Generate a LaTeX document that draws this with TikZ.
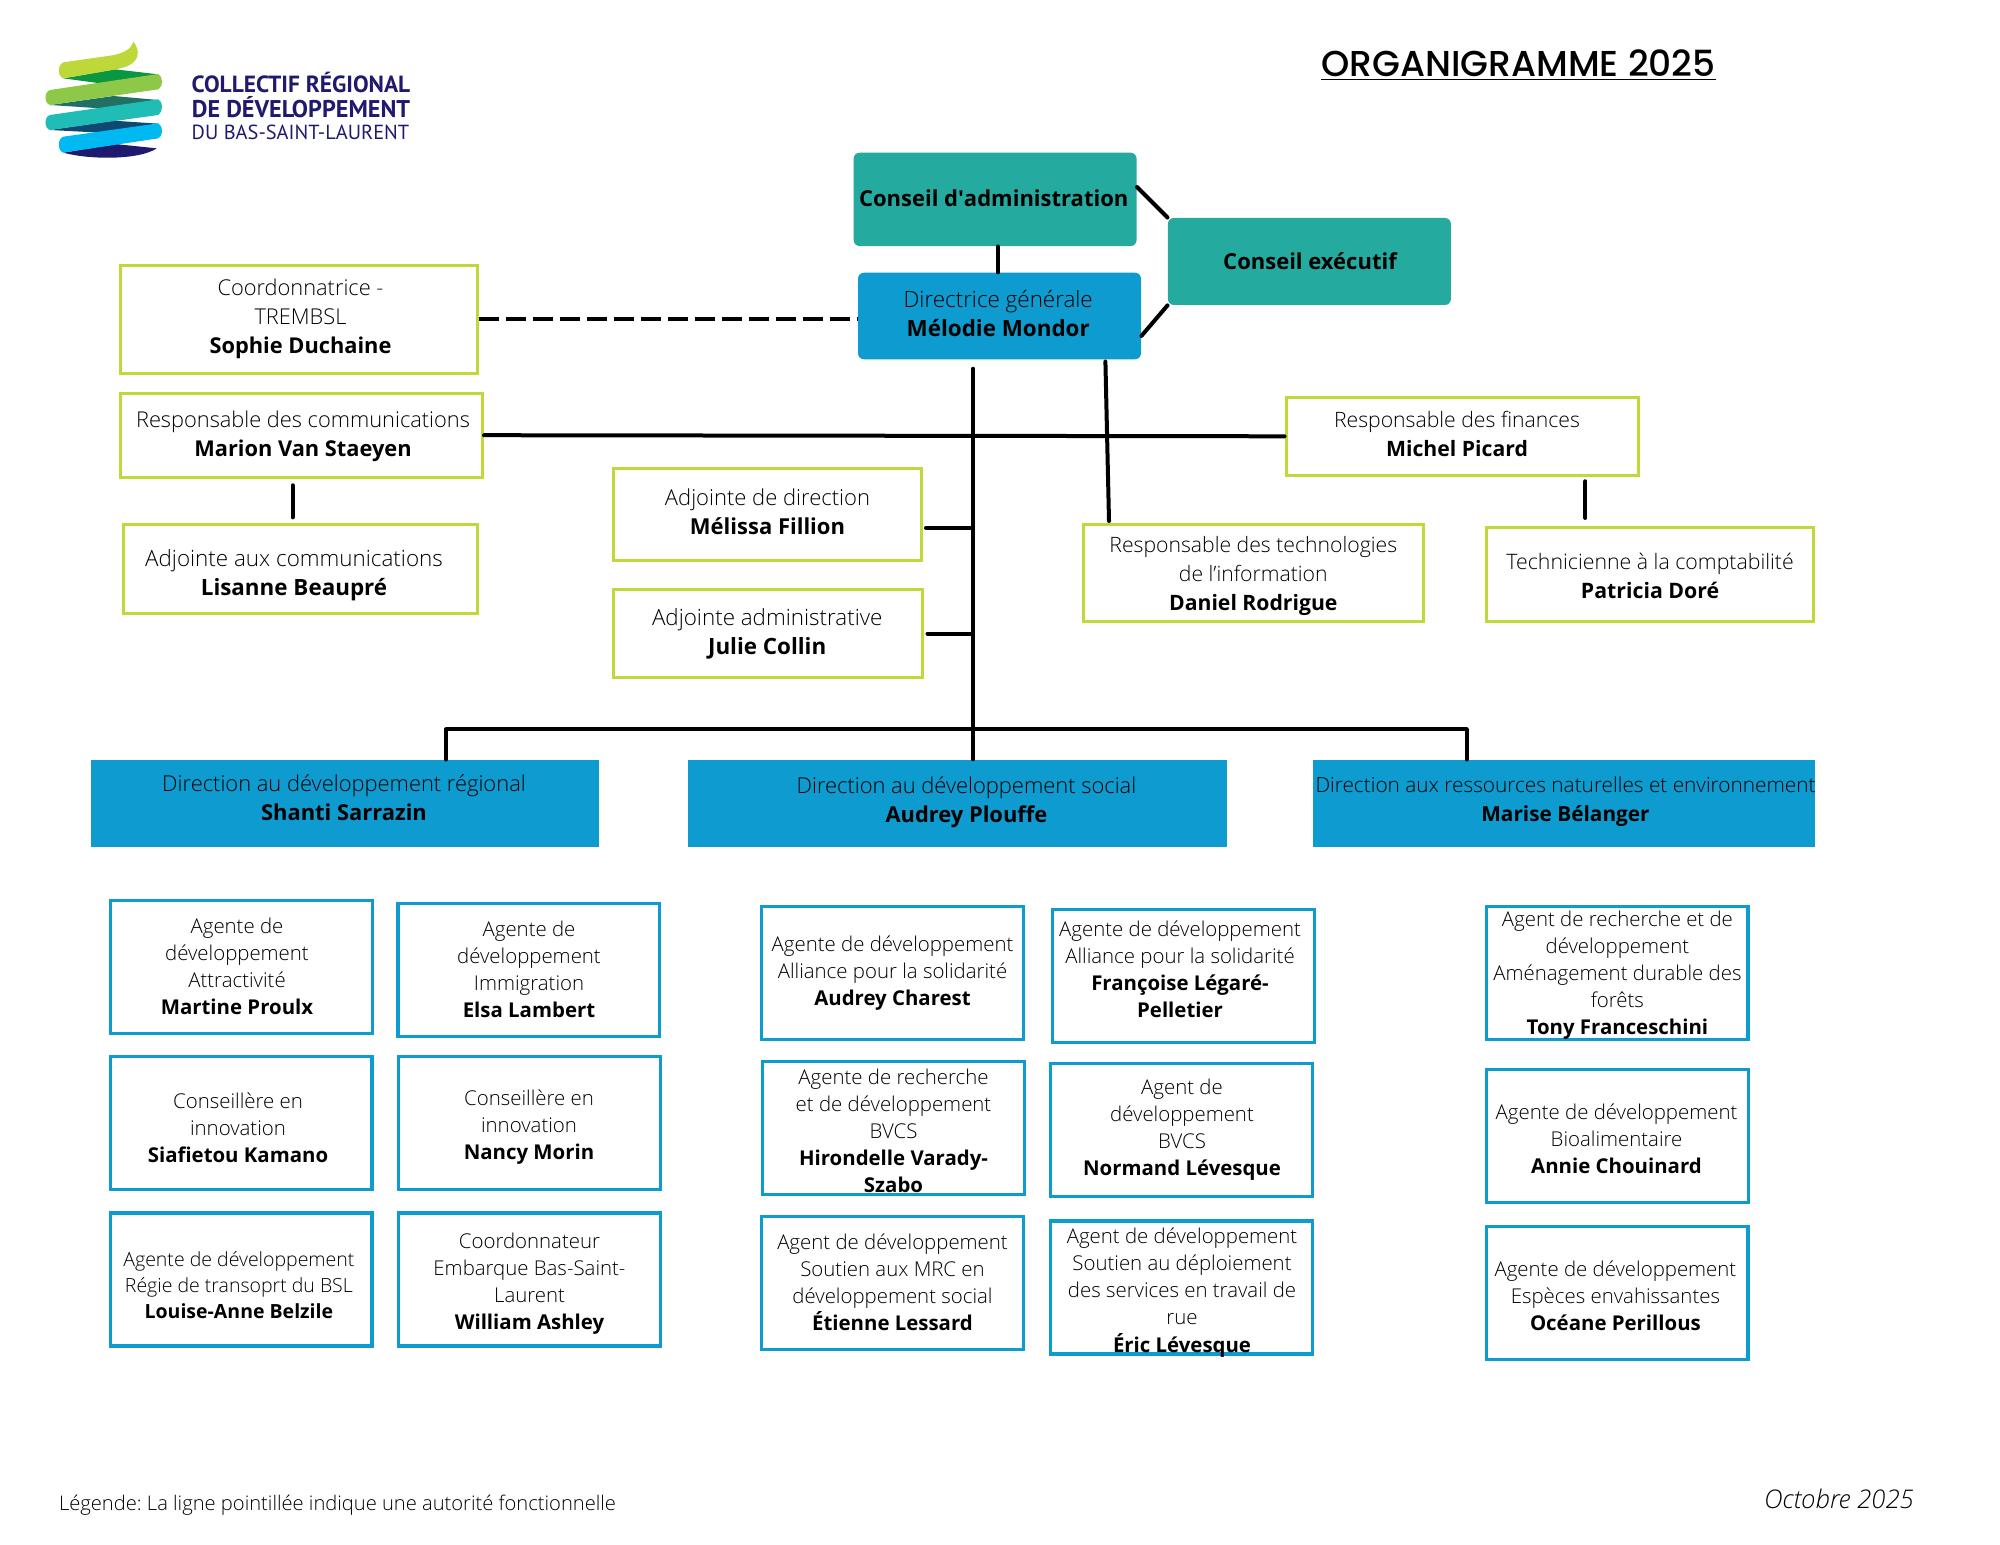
\documentclass[tikz,border=0pt]{standalone}
\usepackage{fontspec}
\usepackage{tikz}
\usepackage{xcolor}
\usetikzlibrary{positioning}

\setmainfont{Open Sans}[UprightFont=* Light, BoldFont=* Bold, ItalicFont=* Light Italic]
\newfontfamily\titlefont{Poppins}[UprightFont=* Medium]
\newfontfamily\logofont{PT Sans}
\frenchspacing

\definecolor{limeline}{HTML}{BFD93A}
\definecolor{bluefill}{HTML}{0E9BD0}
\definecolor{tealfill}{HTML}{24AA9F}
\definecolor{navylogo}{HTML}{1F1A6F}

% box text, moved from the centre of the box by dx and dy (in pixels)
\newcommand{\boxtxt}[3]{\raisebox{\dimexpr-0.25em-1.25pt-#2pt/2\relax}[0pt][0pt]{\makebox[0pt]{\hspace*{#1pt}\begin{tabular}{@{}c@{}}#3\end{tabular}}}}

\tikzset{
    sized/.style 2 args={minimum width=#1*0.5pt, minimum height=#2*0.5pt, inner sep=0pt},
    fontpt/.style={font=\fontsize{#1}{14.5}\selectfont},
    agentfont/.style={font=\fontsize{#1}{13.5}\selectfont},
    staffbox/.style={draw=limeline, line width=1.5pt, fontpt=10.9},
    agentbox/.style={draw=bluefill, line width=1.7pt, sized={261.5}{133}, agentfont=10.2},
    councilbox/.style={fill=tealfill, rounded corners=3pt, font=\fontsize{11}{14.5}\selectfont\bfseries},
    headbox/.style={fill=bluefill, rounded corners=3pt, fontpt=11.2},
    directionbox/.style={fill=bluefill, fontpt=10.95},
    link/.style={line width=2pt, line cap=round},
    dashlink/.style={line width=2pt, dash pattern=on 10pt off 3.5pt},
    logotext/.style={text=navylogo, inner sep=0pt}
}

\begin{document}
\begin{tikzpicture}[x=0.5pt, y=-0.5pt]
    \useasboundingbox (0, 0) rectangle (2000, 1545);

    % logo
    \begin{scope}[x=0.16667pt, y=-0.16667pt]
        \fill[fill={rgb,255:red,11;green,150;blue,66}] (190, 235) -- (345, 208) -- (475, 223) -- (300, 250) -- cycle;
        \fill[fill={rgb,255:red,32;green,112;blue,100}] (150, 315) -- (340, 288) -- (475, 300) -- (300, 325) -- cycle;
        \fill[fill={rgb,255:red,15;green,72;blue,112}] (150, 390) -- (340, 362) -- (475, 371) -- (300, 398) -- cycle;
        \fill[fill=navylogo] (190, 458) -- (345, 432) -- (470, 445) .. controls (420, 480) and (270, 480) .. cycle;
        \fill[fill={rgb,255:red,190;green,216;blue,58}] (190, 187) -- (330, 167) .. controls (375, 160) and (395, 145) .. (400, 125) .. controls (420, 150) and (420, 180) .. (385, 197) .. controls (370, 205) and (340, 210) .. (190, 235) .. controls (172, 230) and (172, 195) .. cycle;
        \fill[fill={rgb,255:red,141;green,200;blue,72}] (150, 270) -- (475, 222) .. controls (490, 230) and (490, 260) .. (475, 268) -- (150, 315) .. controls (132, 310) and (132, 275) .. cycle;
        \fill[fill={rgb,255:red,32;green,189;blue,182}] (150, 345) -- (475, 298) .. controls (490, 305) and (490, 335) .. (475, 345) -- (150, 390) .. controls (132, 385) and (132, 350) .. cycle;
        \fill[fill={rgb,255:red,0;green,185;blue,241}] (190, 410) -- (475, 370) .. controls (490, 378) and (490, 408) .. (475, 415) -- (190, 458) .. controls (172, 452) and (172, 416) .. cycle;
    \end{scope}
    \node[logotext, font=\logofont\fontsize{11.7}{13}\selectfont\bfseries] (logoa) at (301, 82) {COLLECTIF RÉGIONAL};
    \node[logotext, font=\logofont\fontsize{12.1}{13}\selectfont\bfseries] (logob) at (301, 107) {DE DÉVELOPPEMENT};
    \node[logotext, font=\logofont\fontsize{10.2}{13}\selectfont] (logoc) at (300.5, 132) {DU BAS-SAINT-LAURENT};

    \node[font=\titlefont\fontsize{18}{22}\selectfont, inner sep=0pt] (title) at (1518.5, 65.5) {\underline{ORGANIGRAMME 2025}};

    % conseils et direction
    \node[councilbox, sized={283}{93.3}] (admin) at (995.1, 199.4) {\boxtxt{-1.4}{-1}{Conseil d\XeTeXglyph\XeTeXcharglyph"27 administration}};
    \node[councilbox, sized={283}{87}] (exec) at (1309.4, 261.5) {\boxtxt{0.6}{0}{Conseil exécutif}};
    \node[headbox, sized={283}{86.6}] (dg) at (999.5, 316) {\boxtxt{-1.3}{-2}{Directrice générale\\\textbf{Mélodie Mondor}}};

    % postes rattachés
    \node[staffbox, sized={357}{107.4}] (sophie) at (299, 319.5) {\boxtxt{1.5}{-3}{Coordonnatrice -\\TREMBSL\\\textbf{Sophie Duchaine}}};
    \node[staffbox, sized={362}{84}] (marion) at (301.5, 435.2) {\boxtxt{1.5}{-1}{Responsable des communications\\\textbf{Marion Van Staeyen}}};
    \node[staffbox, sized={354}{89}, fontpt=11.2] (lisanne) at (300.5, 569.3) {\boxtxt{-6.5}{3.5}{Adjointe aux communications\\\textbf{Lisanne Beaupré}}};
    \node[staffbox, sized={308}{92.3}, fontpt=11] (melissa) at (767.5, 514.3) {\boxtxt{0}{-2.5}{Adjointe de direction\\\textbf{Mélissa Fillion}}};
    \node[staffbox, sized={309.5}{88.6}, fontpt=11.2] (julie) at (768.2, 633.5) {\boxtxt{-1}{-2}{Adjointe administrative\\\textbf{Julie Collin}}};
    \node[staffbox, sized={339.6}{96.4}, fontpt=10.6] (daniel) at (1253.3, 573) {\boxtxt{0}{0}{Responsable des technologies\\de l’information\\\textbf{Daniel Rodrigue}}};
    \node[staffbox, sized={352}{77.7}, fontpt=10.6] (michel) at (1462, 436.3) {\boxtxt{-5}{-2}{Responsable des finances\\\textbf{Michel Picard}}};
    \node[staffbox, sized={326.4}{94.3}, fontpt=10.65] (patricia) at (1650.1, 574.6) {\boxtxt{0}{1.5}{Technicienne à la comptabilité\\\textbf{Patricia Doré}}};

    % directions
    \node[directionbox, sized={508}{86.7}] (regional) at (345, 803.3) {\boxtxt{-1}{-5.5}{Direction au développement régional\\\textbf{Shanti Sarrazin}}};
    \node[directionbox, sized={538.8}{87}] (social) at (957.4, 803.3) {\boxtxt{9}{-3.3}{Direction au développement social\\\textbf{Audrey Plouffe}}};
    \node[directionbox, sized={502.7}{86.7}, fontpt=10.4] (ressources) at (1564, 803.3) {\boxtxt{1.5}{-4.5}{Direction aux ressources naturelles et environnement\\\textbf{Marise Bélanger}}};

    % agents
    \node[agentbox] (martine) at (241.5, 967.2) {\boxtxt{-4.5}{-1}{Agente de\\développement\\Attractivité\\\textbf{Martine Proulx}}};
    \node[agentbox] (siafietou) at (241.4, 1122.9) {\boxtxt{-3.4}{4.5}{Conseillère en\\innovation\\\textbf{Siafietou Kamano}}};
    \node[agentbox, font=\fontsize{9.75}{13}\selectfont] (louise) at (241.4, 1279.5) {\boxtxt{-2.5}{5}{Agente de développement\\Régie de transoprt du BSL\\\textbf{Louise-Anne Belzile}}};
    \node[agentbox] (elsa) at (528.7, 970) {\boxtxt{0.3}{-1}{Agente de\\développement\\Immigration\\\textbf{Elsa Lambert}}};
    \node[agentbox] (nancy) at (529.5, 1122.9) {\boxtxt{-0.5}{2}{Conseillère en\\innovation\\\textbf{Nancy Morin}}};
    \node[agentbox] (william) at (529.5, 1279.5) {\boxtxt{0}{1}{Coordonnateur\\Embarque Bas-Saint-\\Laurent\\\textbf{William Ashley}}};
    \node[agentbox] (audreyc) at (892.5, 972.8) {\boxtxt{0}{-2}{Agente de développement\\Alliance pour la solidarité\\\textbf{Audrey Charest}}};
    \node[agentbox] (hirondelle) at (893.5, 1127.7) {\boxtxt{0}{2.5}{Agente de recherche\\et de développement\\BVCS\\\textbf{Hirondelle Varady-}\\\textbf{Szabo}}};
    \node[agentbox] (etienne) at (892.5, 1283.2) {\boxtxt{0}{-1}{Agent de développement\\Soutien aux MRC en\\développement social\\\textbf{Étienne Lessard}}};
    \node[agentbox] (francoise) at (1183.5, 975.8) {\boxtxt{-3.5}{-7}{Agente de développement\\Alliance pour la solidarité\\\textbf{Françoise Légaré-}\\\textbf{Pelletier}}};
    \node[agentbox] (normand) at (1181.5, 1129.7) {\boxtxt{0.5}{-3}{Agent de\\développement\\BVCS\\\textbf{Normand Lévesque}}};
    \node[agentbox] (eric) at (1181.5, 1287.5) {\boxtxt{0.5}{2.5}{Agent de développement\\Soutien au déploiement\\des services en travail de\\rue\\\textbf{Éric Lévesque}}};
    \node[agentbox] (tony) at (1617.4, 973) {\boxtxt{0}{-1}{Agent de recherche et de\\développement\\Aménagement durable des\\forêts\\\textbf{Tony Franceschini}}};
    \node[agentbox] (annie) at (1617.5, 1136) {\boxtxt{-1}{2.5}{Agente de développement\\Bioalimentaire\\\textbf{Annie Chouinard}}};
    \node[agentbox] (oceane) at (1617.4, 1293.2) {\boxtxt{-2}{2.5}{Agente de développement\\Espèces envahissantes\\\textbf{Océane Perillous}}};

    \node[inner sep=0pt, font=\fontsize{10.07}{12}\selectfont] (legende) at (337.5, 1505) {Légende: La ligne pointillée indique une autorité fonctionnelle};
    \node[inner sep=0pt, font=\fontsize{12.85}{14}\selectfont\itshape] (date) at (1839, 1499) {Octobre 2025};

    % points libres
    \coordinate (dgfoot) at (973, 368.7);
    \coordinate (techfoot) at (1105.4, 361.5);
    \coordinate (techtop) at (1109, 521);
    \coordinate (adminlink) at (998, 260);
    \coordinate (busl) at (446, 729.3);
    \coordinate (busr) at (1466.5, 729.3);
    \coordinate (commstub) at (292.5, 500);
    \coordinate (finstub) at (1585.4, 500);

    \draw[link] (admin.5.4) to (exec.north west);
    \draw[link] (dg.-8.3) to (exec.south west);
    \draw[link] (admin.south -| adminlink) to (dg.north -| adminlink);
    \draw[dashlink] (sophie.east) to (sophie.east -| dg.west);
    \draw[link] (marion.east) to (michel.west);
    \draw[link, shorten <=3.3pt, shorten >=3pt] (marion.south -| commstub) to (lisanne.north -| commstub);
    \draw[link, shorten <=2.3pt, shorten >=4pt] (michel.south -| finstub) to (patricia.north -| finstub);
    \draw[link] (techfoot) to (techtop);
    \draw[link] (dgfoot) to (dgfoot |- social.north);
    \draw[link, shorten <=1.5pt] (melissa.-5.5) to (melissa.-5.5 -| dgfoot);
    \draw[link, shorten <=1.5pt] (julie.-0.7) to (julie.-0.7 -| dgfoot);
    \draw[link] (busl) to (busr)
        (busl) to (busl |- regional.north)
        (busr) to (busr |- ressources.north);
\end{tikzpicture}
\end{document}
